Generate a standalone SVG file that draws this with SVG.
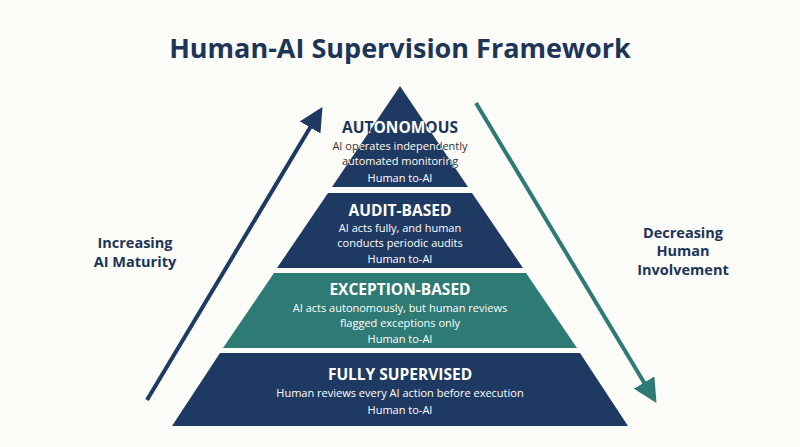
<svg xmlns="http://www.w3.org/2000/svg" width="800" height="447" viewBox="0 0 800 447">
<style>
.t{font-family:"Open Sans","Liberation Sans",sans-serif;text-anchor:middle}
.h{font-weight:700;font-size:15.5px;fill:#fff}
.d{font-size:11px;fill:#fff}
.side{font-family:"Open Sans","Liberation Sans",sans-serif;font-weight:700;font-size:14.5px;fill:#1d3557;text-anchor:middle}
</style>
<defs>
<clipPath id="cp"><polygon points="400,86 468,187 332,187"/></clipPath>
<marker id="an" viewBox="0 0 10 10" refX="8" refY="5" markerWidth="6" markerHeight="6" orient="auto"><path d="M0,0 L10,5 L0,10 z" fill="#1f3a62"/></marker>
<marker id="at" viewBox="0 0 10 10" refX="8" refY="5" markerWidth="6" markerHeight="6" orient="auto"><path d="M0,0 L10,5 L0,10 z" fill="#2e7a74"/></marker>
</defs>
<rect width="800" height="447" fill="#fbfbf8"/>
<text x="400" y="58" class="t" style="font-weight:700;font-size:27px;fill:#1d3557">Human-AI Supervision Framework</text>
<g id="connectors">
<line x1="147" y1="400" x2="320" y2="111" stroke="#1f3a62" stroke-width="4" marker-end="url(#an)"/>
<line x1="476" y1="103" x2="654" y2="399" stroke="#2e7a74" stroke-width="4" marker-end="url(#at)"/>
</g>
<g id="autonomous">
<polygon points="400,86 468,187 332,187" fill="#1f3a62"/>
<g class="t">
<text x="400" y="133" style="font-weight:700;font-size:15.5px;fill:#1d3557">AUTONOMOUS</text>
<text x="400" y="150" style="font-size:11px;fill:#333">AI operates independently</text>
<text x="400" y="165" style="font-size:11px;fill:#333">automated monitoring</text>
<g clip-path="url(#cp)">
<text x="400" y="133" class="h">AUTONOMOUS</text>
<text x="400" y="150" class="d">AI operates independently</text>
<text x="400" y="165" class="d">automated monitoring</text>
</g>
<text x="400" y="182" class="d">Human to-AI</text>
</g>
</g>
<g id="audit">
<polygon points="328,193 472,193 523,268 277,268" fill="#1f3a62"/>
<g class="t">
<text x="400" y="216" class="h">AUDIT-BASED</text>
<text x="400" y="232" class="d">AI acts fully, and human</text>
<text x="400" y="247" class="d">conducts periodic audits</text>
<text x="400" y="263" class="d">Human to-AI</text>
</g>
</g>
<g id="exception">
<polygon points="274,273 526,273 577,348 223,348" fill="#2e7a74"/>
<g class="t">
<text x="400" y="295" class="h">EXCEPTION-BASED</text>
<text x="400" y="312" class="d">AI acts autonomously, but human reviews</text>
<text x="400" y="327" class="d">flagged exceptions only</text>
<text x="400" y="343" class="d">Human to-AI</text>
</g>
</g>
<g id="fully">
<polygon points="220,353 580,353 628,426 172,426" fill="#1f3a62"/>
<g class="t">
<text x="400" y="380" class="h">FULLY SUPERVISED</text>
<text x="400" y="397" class="d">Human reviews every AI action before execution</text>
<text x="400" y="414" class="d">Human to-AI</text>
</g>
</g>
<g id="left-label">
<text x="135" y="248" class="side">Increasing</text>
<text x="135" y="267" class="side">AI Maturity</text>
</g>
<g id="right-label">
<text x="683" y="238" class="side">Decreasing</text>
<text x="683" y="256" class="side">Human</text>
<text x="683" y="275" class="side">Involvement</text>
</g>
</svg>
